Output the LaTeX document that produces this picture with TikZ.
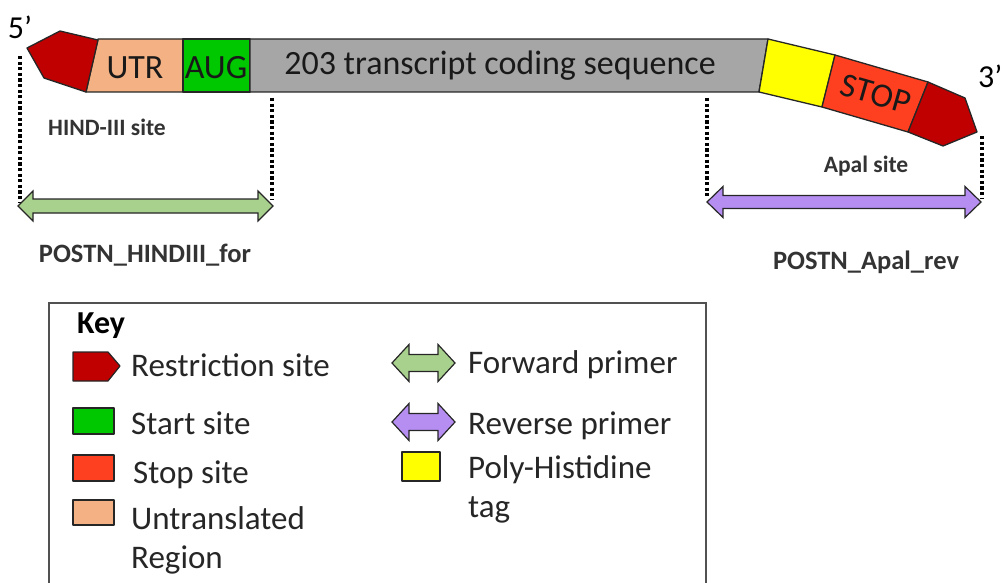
\documentclass[tikz,border=0pt]{standalone}
\usepackage{fontspec}
\setmainfont{Carlito}
\definecolor{restr}{HTML}{C00000}
\definecolor{utr}{HTML}{F4B183}
\definecolor{aug}{HTML}{00C800}
\definecolor{cds}{HTML}{A6A6A6}
\definecolor{his}{HTML}{FFFF00}
\definecolor{stopc}{HTML}{FF4020}
\definecolor{fwd}{HTML}{A9D18E}
\definecolor{rev}{HTML}{B68EF2}
\definecolor{lbl}{HTML}{333333}
\definecolor{edge}{HTML}{262626}
\newcommand{\dArrow}[7]{% style, x1, x2, yc, shaft half, head half, head length
  \filldraw[#1] (#2,#4) -- (#2+#7,#4-#6) -- (#2+#7,#4-#5) -- (#3-#7,#4-#5) -- (#3-#7,#4-#6) -- (#3,#4)
    -- (#3-#7,#4+#6) -- (#3-#7,#4+#5) -- (#2+#7,#4+#5) -- (#2+#7,#4+#6) -- cycle;}
\tikzset{
  seg/.style={draw=edge, line width=1.3pt, line join=round},
  bartext/.style={font=\fontsize{34}{38}\selectfont, text=black!90, inner sep=0pt},
  keytext/.style={font=\fontsize{33}{38}\selectfont, text=black!85, anchor=west, inner sep=0pt},
  sitelbl/.style={font=\bfseries\fontsize{23.5}{27}\selectfont, text=lbl, inner sep=0pt},
  primerlbl/.style={font=\bfseries\fontsize{26.5}{30}\selectfont, text=lbl, inner sep=0pt},
  dots/.style={draw=black, line width=4pt, dash pattern=on 3.2pt off 2.4pt},
  arrowshape/.style={draw=edge, line width=1.2pt, line join=miter}
}
\begin{document}
\begin{tikzpicture}[x=1pt, y=-1pt]
\useasboundingbox (0,0) rectangle (1003,583);
% ---- construct ----
\filldraw[seg, fill=utr] (98,39) -- (183,39) -- (183,92) -- (86,92) -- cycle;
\filldraw[seg, fill=aug] (183,39) -- (250,39) -- (250,92) -- (183,92) -- cycle;
\filldraw[seg, fill=cds] (250,39) -- (768,39) -- (759,92) -- (250,92) -- cycle;
\filldraw[seg, fill=his] (768,39) -- (835,55) -- (822,107) -- (759,92) -- cycle;
\filldraw[seg, fill=stopc] (835,55) -- (928,82) -- (908,132) -- (822,107) -- cycle;
\filldraw[seg, fill=restr] (27,48) -- (60,31) -- (98,40) -- (86,92) -- (44,78) -- cycle;
\filldraw[seg, fill=restr] (928,82) -- (965,98) -- (977,132) -- (943,146) -- (908,132) -- cycle;
\node[bartext] (utrt) at (135,68) {UTR};
\node[bartext] (augt) at (216,68) {AUG};
\node[bartext] (cdst) at (500,66) {203 transcript coding sequence};
\node[bartext, rotate=-16] (stopt) at (876,94) {STOP};
\node[font=\fontsize{32}{36}\selectfont, inner sep=0pt] (five) at (20,27) {5’};
\node[font=\fontsize{32}{36}\selectfont, inner sep=0pt, anchor=west] (three) at (978,76) {3’};
% ---- dotted guides ----
\coordinate (d1a) at (20,56);  \coordinate (d1b) at (20,203);
\coordinate (d2a) at (272,98); \coordinate (d2b) at (272,200);
\coordinate (d3a) at (707,98); \coordinate (d3b) at (707,198);
\coordinate (d4a) at (982,136); \coordinate (d4b) at (982,198);
\draw[dots] (d1a) -- (d1b);
\draw[dots] (d2a) -- (d2b);
\draw[dots] (d3a) -- (d3b);
\draw[dots] (d4a) -- (d4b);
% ---- primers ----
\dArrow{arrowshape, fill=fwd}{18}{273}{206}{7}{15}{15}
\dArrow{arrowshape, fill=rev}{707}{981}{202}{6.5}{15.5}{16}
\node[sitelbl] (hind) at (107,127) {HIND-III site};
\node[sitelbl] (apal) at (866,166) {Apal site};
\node[primerlbl] (fwdl) at (145,255) {POSTN\_HINDIII\_for};
\node[primerlbl] (revl) at (866,262) {POSTN\_Apal\_rev};
% ---- key ----
\draw[draw=edge!80, line width=1.5pt] (49,610) -- (49,303) -- (706,303) -- (706,610);
\node[font=\bfseries\fontsize{32}{36}\selectfont, anchor=west, inner sep=0pt] (key) at (77,326) {Key};
\filldraw[seg, line width=1.2pt, fill=restr] (73,352) -- (108,352) -- (120,366) -- (108,381) -- (73,381) -- cycle;
\node[keytext] (k1) at (131,365) {Restriction site};
\filldraw[seg, line width=1.2pt, fill=aug] (73,408) rectangle (114,434);
\node[keytext] (k2) at (131,423) {Start site};
\filldraw[seg, line width=1.2pt, fill=stopc] (73,455) rectangle (114,481);
\node[keytext] (k3) at (133,475) {Stop site};
\filldraw[seg, line width=1.2pt, fill=utr] (73,500) rectangle (114,525);
\node[keytext] (k4) at (131,518) {Untranslated};
\node[keytext] (k5) at (131,560) {Region};
\dArrow{arrowshape, fill=fwd}{392}{455}{363}{8.5}{18.5}{17}
\node[keytext] (k6) at (468,365) {Forward primer};
\dArrow{arrowshape, fill=rev}{392}{455}{422}{8.5}{18.5}{17}
\node[keytext] (k7) at (468,426) {Reverse primer};
\filldraw[seg, line width=1.2pt, fill=his] (402,452) rectangle (440,481);
\node[keytext] (k8) at (468,470) {Poly-Histidine};
\node[keytext] (k9) at (468,510) {tag};
\end{tikzpicture}
\end{document}
